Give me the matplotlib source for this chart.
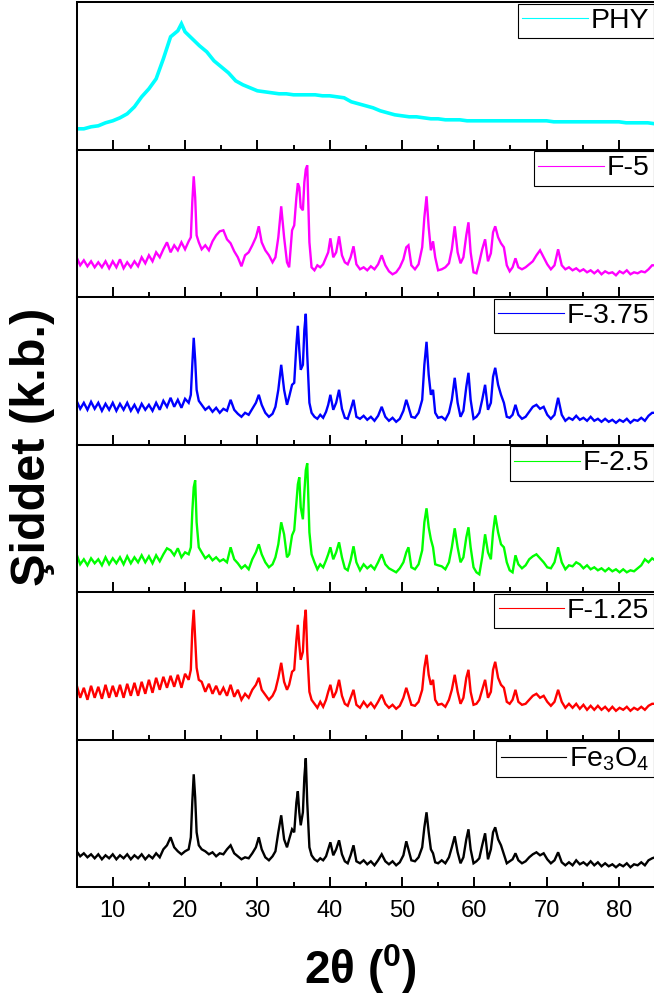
import matplotlib
matplotlib.use("Agg")
import matplotlib.pyplot as plt
from matplotlib.lines import Line2D
from matplotlib.ticker import MultipleLocator

plt.rcParams['font.family'] = ['Liberation Sans', 'DejaVu Sans']
plt.rcParams['mathtext.fontset'] = 'custom'
plt.rcParams['mathtext.rm'] = 'Liberation Sans'
plt.rcParams['mathtext.it'] = 'Liberation Sans:italic'
plt.rcParams['mathtext.bf'] = 'Liberation Sans:bold'

# ---------------- data ----------------
# common 2-theta grid for the crystalline samples (degrees)
two_theta = [
    5.0, 5.5, 6.0, 6.5, 7.0, 7.5, 8.0, 8.5, 9.0, 9.5, 10.0, 10.5, 11.0, 11.5, 12.0, 12.5,
    13.0, 13.5, 14.0, 14.5, 15.0, 15.5, 16.0, 16.5, 17.0, 17.5, 18.0, 18.5, 19.0, 19.5, 20.0, 20.5,
    20.8, 21.0, 21.2, 21.4, 21.6, 21.9,
    22.3, 22.8, 23.3, 23.8, 24.3, 24.8, 25.3, 25.8, 26.3, 26.8, 27.3, 27.8, 28.3, 28.8, 29.3,
    29.8, 30.2, 30.6,
    31.1, 31.6, 32.1, 32.5,
    32.9, 33.3, 33.7, 34.1, 34.4, 34.8, 35.1, 35.4, 35.6, 35.8, 36.0, 36.3, 36.5, 36.7, 36.9, 37.2, 37.5,
    37.9, 38.3, 38.7, 39.1, 39.5,
    39.8, 40.1, 40.5, 40.9, 41.3, 41.7, 42.1, 42.5, 42.9, 43.3, 43.7,
    44.2, 44.7, 45.2, 45.7, 46.2, 46.7, 47.2, 47.7, 48.2, 48.7, 49.2, 49.7, 50.2,
    50.6, 50.9, 51.3, 51.8, 52.3, 52.8, 53.1, 53.4, 53.7, 54.0, 54.3, 54.6, 55.0,
    55.5, 56.0, 56.5, 56.9, 57.3, 57.7, 58.1, 58.5, 58.9, 59.2, 59.5, 59.9, 60.3, 60.7, 61.1,
    61.5, 61.9, 62.3, 62.6, 62.9, 63.3, 63.7, 64.1, 64.5, 64.9, 65.3, 65.7, 66.1, 66.6,
    67.1, 67.6, 68.1, 68.6, 69.1, 69.6, 70.1, 70.6, 71.1, 71.6, 72.1, 72.6, 73.1, 73.6, 74.1, 74.6,
    75.1, 75.6, 76.1, 76.6, 77.1, 77.6, 78.1, 78.6, 79.1, 79.6, 80.1, 80.6, 81.1, 81.6, 82.1, 82.6,
    83.1, 83.6, 84.1, 84.6, 85.0,
]

# intensities (a.u.)
fe3o4 = [
    36, 31, 34, 30, 33, 29, 33, 28, 32, 29, 33, 28, 32, 29, 33, 28,
    32, 29, 33, 28, 32, 29, 34, 30, 38, 42, 50, 40, 36, 33, 36, 38,
    50, 85, 113, 90, 55, 42,
    38, 36, 33, 35, 31, 34, 33, 38, 42, 34, 31, 28, 30, 29, 34,
    40, 50, 38,
    30, 27, 31, 36,
    55, 72, 48, 40, 48, 58, 55, 85, 96, 75, 62, 75, 110, 129, 85, 40, 32,
    28, 26, 29, 27, 31,
    38, 45, 32, 38, 47, 33, 26, 24, 32, 42, 26,
    24, 27, 23, 26, 22, 27, 33, 26, 23, 26, 22, 25, 32,
    46, 38, 27, 26, 30, 40, 60, 75, 55, 38, 34, 25, 24,
    27, 24, 30, 40, 51, 35, 24, 30, 48, 58, 38, 24, 26, 29, 42,
    54, 28, 38, 55, 60, 48, 42, 33, 24, 26, 28, 34, 27, 24,
    26, 30, 33, 35, 32, 34, 28, 24, 27, 35, 25, 22, 25, 22, 27, 23,
    25, 22, 26, 22, 25, 21, 24, 21, 23, 20, 23, 21, 24, 20, 23, 22,
    25, 22, 27, 29, 30,
]
f_125 = [
    55, 42, 52, 40, 54, 42, 53, 41, 55, 42, 54, 43, 55, 42, 56, 44,
    57, 44, 58, 46, 60, 47, 62, 50, 63, 52, 64, 53, 65, 52, 66, 60,
    70, 110, 130, 100, 72, 60,
    58, 48, 56, 46, 54, 45, 52, 44, 55, 43, 50, 40, 46, 42, 50,
    55, 62, 50,
    45, 40, 44, 50,
    62, 77, 58, 50, 55, 68, 70, 100, 115, 95, 80, 88, 118, 130, 88, 48, 40,
    36, 32, 38, 33, 40,
    48, 55, 42, 48, 60, 44, 36, 34, 42, 50, 35,
    32, 38, 33, 37, 32, 38, 45, 36, 32, 35, 31, 34, 42,
    52, 45, 35, 34, 38, 50, 72, 85, 65, 55, 60, 40, 35,
    36, 33, 40, 50, 65, 48, 36, 42, 62, 70, 48, 35, 36, 40, 50,
    60, 42, 48, 70, 78, 62, 55, 52, 38, 36, 40, 50, 38, 35,
    36, 40, 44, 46, 42, 44, 38, 34, 38, 50, 38, 32, 36, 32, 36, 31,
    35, 30, 34, 30, 34, 30, 33, 29, 33, 29, 32, 30, 33, 29, 32, 30,
    33, 30, 34, 36, 36,
]
f_25 = [
    38, 28, 33, 27, 34, 29, 33, 27, 35, 28, 34, 29, 35, 28, 36, 29,
    35, 30, 37, 30, 36, 29, 37, 31, 38, 44, 42, 37, 44, 35, 40, 38,
    45, 80, 105, 112, 70, 45,
    40, 34, 37, 32, 35, 31, 33, 30, 45, 33, 29, 24, 27, 23, 33,
    40, 48, 38,
    30, 25, 28, 35,
    48, 70, 58, 35, 38, 57, 62, 90, 108, 115, 85, 73, 100, 122, 129, 60, 38,
    30, 23, 28, 25, 32,
    38, 45, 33, 40, 50, 35, 24, 22, 32, 46, 30,
    22, 28, 24, 27, 23, 30, 38, 28, 24, 22, 20, 24, 30,
    40, 45, 25, 23, 28, 42, 70, 84, 65, 53, 45, 28, 27,
    26, 23, 30, 45, 64, 45, 30, 35, 55, 65, 45, 25, 20, 18, 35,
    58, 40, 33, 60, 77, 60, 48, 45, 30, 22, 20, 37, 28, 24,
    27, 33, 36, 38, 34, 30, 25, 24, 30, 45, 30, 23, 27, 26, 30, 28,
    24, 27, 23, 25, 22, 24, 21, 24, 21, 23, 20, 23, 20, 22, 21, 24,
    27, 33, 30, 34, 32,
]
f_375 = [
    44, 36, 42, 35, 43, 36, 42, 34, 41, 35, 42, 34, 41, 35, 42, 34,
    40, 33, 41, 35, 40, 34, 42, 35, 44, 38, 47, 38, 45, 37, 46, 42,
    50, 80, 107, 85, 55, 44,
    40, 35, 38, 33, 37, 32, 36, 34, 45, 35, 31, 28, 32, 30, 36,
    42, 50, 40,
    32, 28, 31, 38,
    55, 80, 55, 40, 48, 60, 62, 100, 119, 95, 75, 80, 115, 131, 90, 42, 32,
    28, 26, 30, 27, 33,
    40, 50, 35, 42, 55, 36, 27, 26, 35, 45, 28,
    26, 29, 25, 28, 24, 29, 38, 28, 24, 27, 23, 26, 34,
    45, 38, 28, 27, 32, 45, 80, 103, 70, 50, 55, 32, 27,
    28, 25, 32, 45, 67, 42, 28, 34, 58, 72, 45, 26, 28, 32, 45,
    60, 35, 42, 68, 77, 60, 50, 42, 28, 27, 30, 40, 30, 26,
    28, 33, 38, 40, 36, 38, 30, 26, 30, 47, 30, 24, 27, 25, 29, 25,
    27, 24, 28, 24, 26, 23, 26, 23, 25, 22, 25, 23, 26, 22, 25, 24,
    27, 24, 29, 32, 32,
]
f_5 = [
    40, 32, 37, 31, 36, 30, 35, 30, 36, 29, 36, 30, 38, 29, 35, 30,
    36, 31, 40, 34, 42, 36, 45, 40, 48, 55, 45, 52, 47, 55, 48, 56,
    60, 95, 121, 100, 62, 55,
    48, 52, 47, 56, 62, 66, 67, 58, 54, 46, 40, 31, 42, 45, 52,
    60, 71, 55,
    47, 42, 35, 40,
    60, 91, 60, 35, 30, 67, 72, 100, 114, 110, 90, 87, 115, 128, 132, 55, 30,
    27, 32, 30, 33, 40,
    45, 59, 40, 45, 61, 42, 35, 33, 40, 51, 33,
    28, 30, 27, 31, 28, 33, 42, 32, 26, 23, 25, 30, 38,
    50, 52, 32, 28, 33, 50, 80, 101, 70, 47, 56, 40, 27,
    28, 30, 34, 48, 71, 45, 34, 40, 62, 75, 45, 25, 24, 35, 48,
    58, 36, 44, 65, 71, 60, 54, 50, 32, 26, 30, 39, 30, 28,
    30, 33, 36, 42, 47, 40, 33, 28, 32, 48, 32, 28, 30, 27, 29, 26,
    28, 25, 27, 24, 27, 23, 26, 24, 25, 22, 26, 24, 27, 23, 25, 24,
    26, 25, 28, 32, 32,
]

# amorphous PHY sample
phy_theta = [
    5, 6, 7, 8, 9, 10, 11, 12, 13, 14, 15, 16, 17, 18, 19, 19.5, 20, 21, 22, 23, 24, 25,
    26, 27, 28, 29, 30, 31, 32, 33, 34, 35, 36, 37, 38, 39, 40, 41, 42, 43, 44, 45,
    46, 47, 48, 49, 50, 51, 52, 53, 54, 55, 56, 57, 58, 59, 60, 61, 62, 63, 64, 65,
    66, 67, 68, 69, 70, 71, 72, 73, 74, 75, 76, 77, 78, 79, 80, 81, 82, 83, 84, 85,
]
phy = [
    21, 21, 23, 24, 27, 29, 32, 36, 43, 53, 61, 71, 91, 113, 119, 126, 118, 111, 104, 98, 89, 83,
    77, 69, 65, 62, 59, 58, 57, 56, 56, 55, 55, 55, 55, 54, 54, 53, 52, 48, 46, 44,
    42, 39, 37, 35, 34, 33, 33, 32, 31, 31, 30, 30, 30, 29, 29, 29, 29, 29, 29, 29,
    29, 29, 29, 29, 29, 28, 28, 28, 28, 28, 28, 28, 28, 28, 28, 27, 27, 27, 27, 26,
]

labels = ['PHY', 'F-5', 'F-3.75', 'F-2.5', 'F-1.25', 'Fe$_3$O$_4$']
colors = ['#00FFFF', '#FF00FF', '#0000FF', '#00FF00', '#FF0000', '#000000']
series = [(phy_theta, phy), (two_theta, f_5), (two_theta, f_375),
          (two_theta, f_25), (two_theta, f_125), (two_theta, fe3o4)]
for xs, ys in series:
    assert len(xs) == len(ys), (len(xs), len(ys))

x_ticks = [10, 20, 30, 40, 50, 60, 70, 80]

# ---------------- figure ----------------
W, H = 654, 997
fig = plt.figure(figsize=(W / 100, H / 100), dpi=100)

left_px, right_px = 76.6, 655.0
top_px, panel_h = 2.3, 147.5
n = len(series)

for i, ((xs, ys), lab, col) in enumerate(zip(series, labels, colors)):
    t = top_px + i * panel_h
    ax = fig.add_axes([left_px / W, 1 - (t + panel_h) / H,
                       (right_px - left_px) / W, panel_h / H])
    lw = 2.6 if i == 0 else 1.7
    ax.plot(xs, ys, color=col, lw=lw, solid_joinstyle='miter')
    ax.set_xlim(5, 85)
    ax.set_ylim(0, 147.5)
    ax.set_yticks([])
    ax.set_xticks(x_ticks)
    ax.xaxis.set_minor_locator(MultipleLocator(5))
    ax.tick_params(axis='x', which='major', direction='in', length=7.2, width=1.4,
                   bottom=True, top=False, labelsize=17, pad=9)
    ax.tick_params(axis='x', which='minor', direction='in', length=3.6, width=1.4,
                   bottom=True, top=False)
    if i < n - 1:
        ax.tick_params(axis='x', labelbottom=False)
    for sp in ax.spines.values():
        sp.set_linewidth(1.45)
        sp.set_color('black')
    h = Line2D([], [], color=col, lw=0.8)
    leg = ax.legend([h], [lab], loc='upper right', fontsize=20.5, frameon=True,
                    fancybox=False, framealpha=1, edgecolor='black',
                    borderaxespad=0.05, borderpad=0.15, handlelength=2.3,
                    handletextpad=0.1)
    leg.get_frame().set_linewidth(0.8)

fig.text(360 / W, 1 - 969 / H, r'$\mathbf{2θ\ (^{0})}$', ha='center', va='center',
         fontsize=33)
fig.text(33 / W, 1 - 447 / H, 'Şiddet (k.b.)', ha='center', va='center',
         rotation=90, fontsize=35, fontweight='bold')

fig.savefig('out.png', dpi=100)
